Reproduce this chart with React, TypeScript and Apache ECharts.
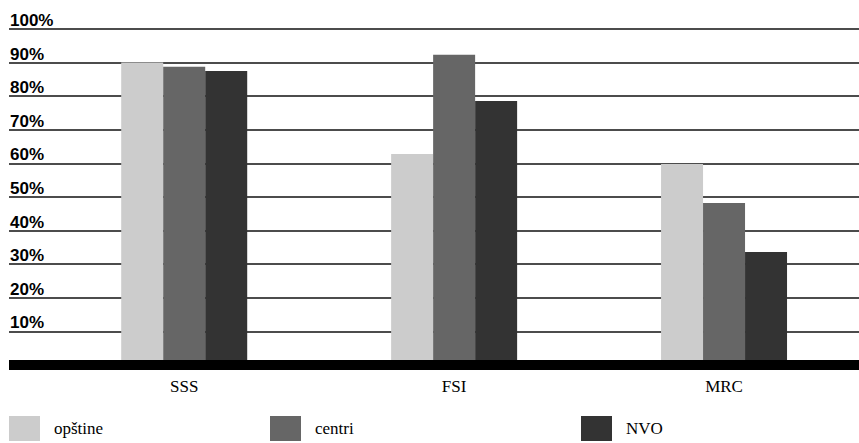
import React, { useEffect, useRef } from "react";
import * as echarts from "echarts";

const categories = ["SSS", "FSI", "MRC"];
const seriesNames = ["opštine", "centri", "NVO"];
const opstine = [90, 62.8, 59.8];
const centri = [88.8, 92.3, 48.2];
const nvo = [87.5, 78.6, 33.6];
const seriesColors = ["#cccccc", "#666666", "#333333"];
const yTicks = [0, 10, 20, 30, 40, 50, 60, 70, 80, 90, 100];

export default function App() {
  const ref = useRef<HTMLDivElement>(null);
  useEffect(() => {
    if (!ref.current) return;
    const chart = echarts.init(ref.current, null, { renderer: "svg" });
    const serif = "Liberation Serif";
    const values = [opstine, centri, nvo];
    const legendLefts = [9, 270, 581];
    chart.setOption({
      animation: false,
      backgroundColor: "#ffffff",
      textStyle: { fontFamily: serif },
      grid: [
        { left: 9, right: 0, top: 29, height: 336 },
        { left: 49.25, width: 817.5, top: 29, height: 336 },
      ],
      legend: seriesNames.map((n, i) => ({
        data: [n],
        left: legendLefts[i],
        top: 416,
        padding: 0,
        icon: "rect",
        itemWidth: 31,
        itemHeight: 25,
        textStyle: {
          fontFamily: serif,
          fontSize: 17,
          color: "#000",
          padding: [0, 0, 0, 9],
        },
        selectedMode: false,
      })),
      xAxis: [
        {
          gridIndex: 0,
          type: "value",
          min: 0,
          max: 1,
          z: 10,
          axisLine: {
            show: true,
            onZero: false,
            lineStyle: { color: "#000", width: 10, cap: "butt" },
          },
          axisTick: { show: false },
          axisLabel: { show: false },
          splitLine: { show: false },
        },
        {
          gridIndex: 1,
          type: "category",
          data: categories,
          axisLine: { show: false },
          axisTick: { show: false },
          axisLabel: {
            fontFamily: serif,
            fontSize: 17,
            color: "#000",
            margin: 13,
          },
          splitLine: { show: false },
        },
      ],
      yAxis: [
        {
          gridIndex: 0,
          type: "value",
          min: yTicks[0],
          max: yTicks[yTicks.length - 1],
          interval: 10,
          axisLine: { show: false },
          axisTick: { show: false },
          axisLabel: {
            inside: true,
            margin: 1,
            verticalAlign: "bottom",
            align: "left",
            fontFamily: "Liberation Sans",
            fontWeight: "bold",
            fontSize: 17,
            color: "#000",
            formatter: (v: number) => (v === 0 ? "" : v + "%"),
          },
          splitLine: { show: true, lineStyle: { color: "#111", width: 1.5 } },
        },
        {
          gridIndex: 1,
          type: "value",
          min: 0,
          max: 100,
          interval: 10,
          show: false,
          splitLine: { show: false },
        },
      ],
      series: seriesNames.map((n, i) => ({
        name: n,
        type: "bar",
        xAxisIndex: 1,
        yAxisIndex: 1,
        data: values[i],
        barWidth: 42,
        barGap: "0%",
        itemStyle: { color: seriesColors[i] },
      })),
    });
    return () => chart.dispose();
  }, []);
  return (
    <div
      ref={ref}
      style={{ position: "fixed", left: 0, top: 0, width: 859, height: 443 }}
    />
  );
}
